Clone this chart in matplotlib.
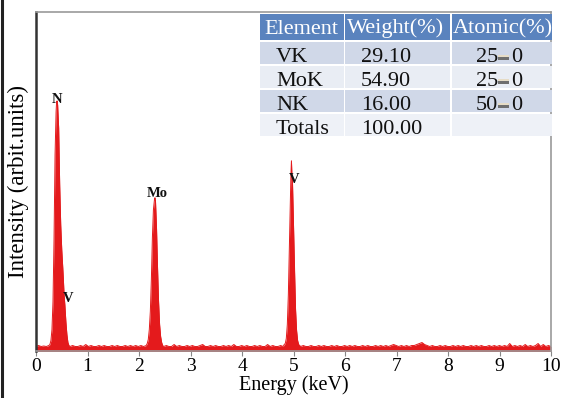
import numpy as np
import matplotlib
matplotlib.use("Agg")
import matplotlib.pyplot as plt
from matplotlib.patches import Rectangle
from matplotlib.lines import Line2D

# ---------------- data ----------------
# N / V-L peak region
n_e = [0.27, 0.29, 0.31, 0.33, 0.35, 0.37, 0.39, 0.40, 0.41, 0.42, 0.44, 0.46, 0.48, 0.50,
       0.52, 0.53, 0.545, 0.56, 0.58, 0.60, 0.62, 0.64]
n_i = [5, 9, 20, 48, 110, 195, 238, 248, 249, 245, 222, 165, 125, 100,
       82, 72, 55, 45, 28, 15, 7, 4]
# Mo peak region
mo_e = [2.16, 2.18, 2.20, 2.22, 2.24, 2.26, 2.28, 2.30, 2.31, 2.32, 2.34, 2.36, 2.38,
        2.40, 2.42, 2.44, 2.46]
mo_i = [6, 10, 20, 38, 70, 112, 140, 150, 152, 149, 122, 82, 48, 25, 13, 7, 4]
# V-K peak region
v_e = [4.82, 4.84, 4.86, 4.88, 4.90, 4.92, 4.94, 4.95, 4.96, 4.97, 4.98, 5.00, 5.02,
       5.04, 5.06, 5.08, 5.10, 5.12]
v_i = [5, 6, 11, 25, 55, 105, 155, 175, 189, 174, 168, 125, 78, 40, 19, 9, 5, 4]
# background between peaks
b1 = [3, 4, 3, 3.5, 3, 4]
b2 = [3, 4, 3, 3, 4, 3, 5, 3, 4, 3, 3, 4, 3, 4, 3, 3, 4, 3, 4, 3, 3, 4, 3, 4, 3, 4, 3, 4, 3, 4]
b3 = [3, 4, 3, 3, 5, 3, 4, 3, 3, 4, 3, 4, 3, 3, 4, 5, 3, 3, 4, 3, 4, 3, 3, 4, 3, 4, 3, 5,
      3, 3, 4, 3, 4, 3, 3, 4, 3, 4, 3, 3, 5, 3, 4, 3, 3, 4, 3]
b4 = [3, 4, 3, 3, 4, 3, 3, 4, 3, 4,
      3, 3, 4, 3, 4, 3, 3, 4, 3, 4,
      3, 4, 3, 3, 4, 3, 4, 3, 3, 4,
      3, 4, 3, 4, 3, 4, 5, 4, 3, 4,
      3, 4, 3, 4, 4, 5, 6, 7, 5, 4,
      3, 4, 3, 3, 4, 3, 4, 3, 3, 4,
      3, 4, 3, 4, 3, 3, 4, 3, 4, 3,
      4, 3, 3, 4, 3, 4, 3, 4, 3, 4,
      3, 6, 3, 4, 3, 4, 3, 5, 3, 4,
      3, 4, 6, 3, 5, 3, 4, 3]

peak_labels = ["N", "V", "Mo", "V"]
peak_label_pos = [(0.40, 250), (0.62, 51), (2.35, 156), (5.01, 170)]

table_header = ["Element", "Weight(%)", "Atomic(%)"]
table_elements = ["VK", "MoK", "NK", "Totals"]
table_weight = ["29.10", "54.90", "16.00", "100.00"]
table_atomic = ["25", "25", "50", ""]

xticks = list(range(0, 11))

# ---------------- assemble spectrum ----------------
energy = np.concatenate([
    np.linspace(0.0, 0.25, len(b1)), n_e,
    np.linspace(0.66, 2.14, len(b2)), mo_e,
    np.linspace(2.48, 4.80, len(b3)), v_e,
    np.linspace(5.14, 10.0, len(b4)),
])
intensity = np.concatenate([b1, n_i, b2, mo_i, b3, v_i, b4]).astype(float)

W, H = 566, 398
fig = plt.figure(figsize=(W / 100, H / 100), dpi=100)
fig.patch.set_facecolor("white")

ax = fig.add_axes([36 / W, 1 - 351 / H, (551 - 36) / W, (351 - 12) / H])
red = "#E41A1C"
ax.fill_between(energy, -2, intensity, color=red, lw=0)
ax.plot(energy, intensity, color=red, lw=0.7)

ax.set_xlim(0, 10)
ax.set_ylim(-1.5, 338)
ax.set_xticks(xticks)
ax.set_xticklabels([str(t) for t in xticks], fontsize=14, family="Liberation Serif")
ax.tick_params(axis="x", direction="out", length=3.5, width=0.8, color="#888888", pad=1.5)
ax.set_yticks([])

for side in ["top", "right", "bottom"]:
    ax.spines[side].set_color("#9a9a9a")
    ax.spines[side].set_linewidth(1.2)
ax.spines["left"].set_color("#333333")
ax.spines["left"].set_linewidth(1.8)

ax.set_xlabel("Energy (keV)", fontsize=14.5, family="Liberation Serif", labelpad=0)
ax.set_ylabel("Intensity (arbit.units)", fontsize=16.5, family="Liberation Serif", labelpad=5)

for lab, (x, y) in zip(peak_labels, peak_label_pos):
    ax.text(x, y, lab, fontsize=10.5, fontweight="bold", family="Liberation Serif",
            ha="center", va="center", color="#111111")

# ---------------- table (pixel-space overlay axes) ----------------
tx0, ty0, tx1, ty1 = 258, 13, 552, 137
tab = fig.add_axes([tx0 / W, 1 - ty1 / H, (tx1 - tx0) / W, (ty1 - ty0) / H])
tab.set_xlim(tx0, tx1)
tab.set_ylim(ty1, ty0)
tab.axis("off")

col_edges = [(260, 343.5), (345, 450), (451.5, 552)]
row_edges = [(14, 39.5), (41.5, 63.5), (65.5, 87.5), (89.5, 111.5), (113.5, 136)]
row_colors = ["#5A83BE", "#D0D8E8", "#E9EDF4", "#D0D8E8", "#EEF1F7"]
for (r0, r1), rc in zip(row_edges, row_colors):
    for (c0, c1) in col_edges:
        tab.add_patch(Rectangle((c0, r0), c1 - c0, r1 - r0, facecolor=rc, edgecolor="none"))

tfont = dict(fontsize=16, family="Liberation Serif")
hx = [264, 347, 453]
for x, t in zip(hx, table_header):
    tab.text(x, row_edges[0][1] - 6, t, color="white", ha="left", va="baseline", **tfont)
for k, (el, wt, at) in enumerate(zip(table_elements, table_weight, table_atomic)):
    r0, r1 = row_edges[k + 1]
    yb = r1 - 2
    tab.text(276, yb, el, color="#111111", ha="left", va="baseline", **tfont)
    tab.text(361, yb, wt, color="#111111", ha="left", va="baseline", **tfont)
    if at:
        tab.text(476, yb, at, color="#111111", ha="left", va="baseline", **tfont)
        tab.add_patch(Rectangle((497.5, yb - 7), 11, 2.5, facecolor="#E6DCC6", edgecolor="none"))
        tab.add_patch(Rectangle((497.5, yb - 4.5), 11, 2.5, facecolor="#6E6E6E", edgecolor="none"))
        tab.text(511.5, yb, "0", color="#111111", ha="left", va="baseline", **tfont)

# scanning artifact: dark line at the far left edge
fig.add_artist(Line2D([1.5 / W, 1.5 / W], [0, 1], color="#222222", lw=2.2))

fig.savefig("out.png", dpi=100)
